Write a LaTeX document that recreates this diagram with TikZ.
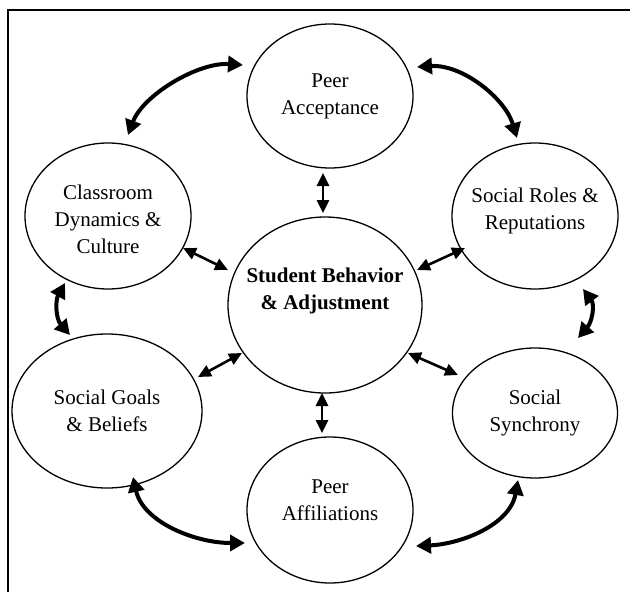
\documentclass[tikz,border=0pt]{standalone}
\usepackage{fontspec}
\setmainfont{Liberation Serif}
\usetikzlibrary{shapes.geometric,arrows.meta,calc}
\tikzset{
  bubble/.style={draw, ellipse, line width=1.3pt, minimum width=166pt, minimum height=146pt,
    inner sep=0pt},
  caption/.style={align=center, inner sep=0pt, font=\fontsize{21}{27}\selectfont},
  spoke/.style={line width=2.6pt, {Triangle[length=13pt,width=12pt]}-{Triangle[length=13pt,width=12pt]}},
  swing/.style={line width=4pt, {Triangle[length=15pt,width=16pt]}-{Triangle[length=15pt,width=16pt]}},
  frameline/.style={line width=1.3pt},
}
\begin{document}
\begin{tikzpicture}[x=1pt,y=-1pt]
\useasboundingbox (0,0) rectangle (630,592);
\draw[frameline] (8,592) -- (8,10) -- (630,10);

\node[bubble, minimum width=194pt, minimum height=176pt,
  label={[caption, font=\fontsize{21}{27}\selectfont\bfseries, yshift=14pt]center:Student Behavior\\\& Adjustment}]
  (sb) at (325,305) {};
\node[bubble, minimum height=144pt, label={[caption]center:Peer\\Acceptance}] (pa) at (330,96) {};
\node[bubble, label={[caption, yshift=10pt]center:Peer\\Affiliations}] (pf) at (330,510) {};
\node[bubble, label={[caption, yshift=-3pt]center:Classroom\\Dynamics \&\\Culture}] (cd) at (108,216) {};
\node[bubble, label={[caption, yshift=5pt]center:Social Roles \&\\Reputations}] (sr) at (535,216) {};
\node[bubble, minimum width=190pt, minimum height=154pt, label={[caption]center:Social Goals\\\& Beliefs}] (sg) at (107,411) {};
\node[bubble, minimum width=165pt, minimum height=130pt, label={[caption]center:Social\\Synchrony}] (ss) at (535,413) {};

% spokes
\draw[spoke] ($(pa)+(-7,77)$) -- ($(sb)+(-2,-92)$);
\draw[spoke] ($(sb)+(-3,88)$) -- ($(pf)+(-8,-77)$);
\draw[spoke] ($(cd)+(75,32)$) -- ($(sb)+(-97,-35)$);
\draw[spoke] ($(sb)+(92,-35)$) -- ($(sr)+(-70,32)$);
\draw[spoke] ($(sg)+(91,-34)$) -- ($(sb)+(-83,48)$);
\draw[spoke] ($(sb)+(83,48)$) -- ($(ss)+(-77,-38)$);

% outer ring
\draw[swing] ($(cd)+(20,-81)$) .. controls +(15,-40) and +(-45,-3) .. ($(pa)+(-87,-31)$);
\draw[swing] ($(pa)+(87,-29)$) .. controls +(45,-3) and +(-12,-40) .. ($(sr)+(-18,-78)$);
\draw[swing] ($(cd)+(-43,67)$) .. controls +(-10,18) and +(-14,-16) .. ($(sg)+(-37,-76)$);
\draw[swing] ($(sr)+(48,73)$) .. controls +(12,16) and +(14,-16) .. ($(ss)+(43,-75)$);
\draw[swing] ($(sg)+(26,66)$) .. controls +(10,45) and +(-50,0) .. ($(pf)+(-85,33)$);
\draw[swing] ($(pf)+(86,36)$) .. controls +(45,-2) and +(-8,45) .. ($(ss)+(-17,67)$);
\end{tikzpicture}
\end{document}
